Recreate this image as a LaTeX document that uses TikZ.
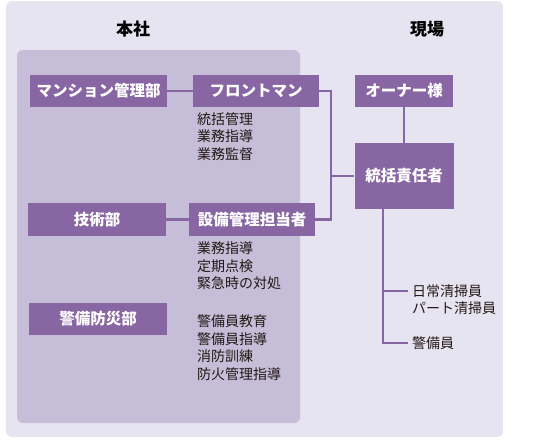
\documentclass[tikz,border=0pt]{standalone}
\usepackage{fontspec}
\setmainfont{Noto Sans CJK JP}
\usepackage{tikz}
\definecolor{bgout}{HTML}{E7E4F1}
\definecolor{bgin}{HTML}{C6BED8}
\definecolor{boxc}{HTML}{8866A3}
\definecolor{txtc}{HTML}{231815}

\begin{document}
\begin{tikzpicture}[x=1pt,y=-1pt,
  box/.style={rectangle,fill=boxc,text=white,font=\fontsize{15.5}{18}\selectfont\bfseries,inner sep=0pt,minimum height=32pt},
  memo/.style={anchor=north west,align=left,text=txtc,font=\fontsize{14}{17.5}\selectfont,inner sep=0pt},
  staff/.style={anchor=west,text=txtc,font=\fontsize{14}{17.5}\selectfont,inner sep=4pt},
  head/.style={font=\fontsize{17}{19}\selectfont\bfseries},
  conn/.style={draw=boxc,line width=2.6pt}]
\useasboundingbox (0,0) rectangle (545,440);
\fill[bgout,rounded corners=6pt] (6,1) rectangle (503,437);
\fill[bgin,rounded corners=6pt] (17,50) rectangle (300,423);
\node at (133,29) [head] (honsha) {本社};
\node at (427,29) [head] (genba) {現場};
\node at (98.5,91) [box,minimum width=137pt] (mansion) {マンション管理部};
\node at (256,91) [box,minimum width=126pt] (front) {フロントマン};
\node at (404,91) [box,minimum width=98pt] (owner) {オーナー様};
\node at (404,176) [box,minimum width=99pt,minimum height=66pt] (sekinin) {統括責任者};
\node at (97,219.5) [box,minimum width=138pt,minimum height=33pt] (gijutsu) {技術部};
\node at (252,219.5) [box,minimum width=126pt,minimum height=33pt] (setsubi) {設備管理担当者};
\node at (98,319) [box,minimum width=138pt] (keibi) {警備防災部};
\node at (197,112) [memo] (memoF) {統括管理\\業務指導\\業務監督};
\node at (197,242) [memo] (memoS) {業務指導\\定期点検\\緊急時の対処};
\node at (197,315) [memo] (memoK) {警備員教育\\警備員指導\\消防訓練\\防火管理指導};
\node at (408,291) [staff] (clean) {日常清掃員};
\node at (408,308.5) [staff] (part) {パート清掃員};
\node at (408,343) [staff] (guard) {警備員};
\coordinate (hub) at (331,176);
\coordinate (drop) at (383,343);
\draw[conn] (mansion) -- (front);
\draw[conn] (gijutsu) -- (setsubi);
\draw[conn] (front.east) -| (hub) |- (setsubi.east);
\draw[conn] (hub) -- (sekinin.west);
\draw[conn] (owner) -- (sekinin);
\draw[conn] (sekinin.south -| drop) |- (guard.west);
\draw[conn] (clean.west -| drop) -- (clean.west);
\end{tikzpicture}
\end{document}
